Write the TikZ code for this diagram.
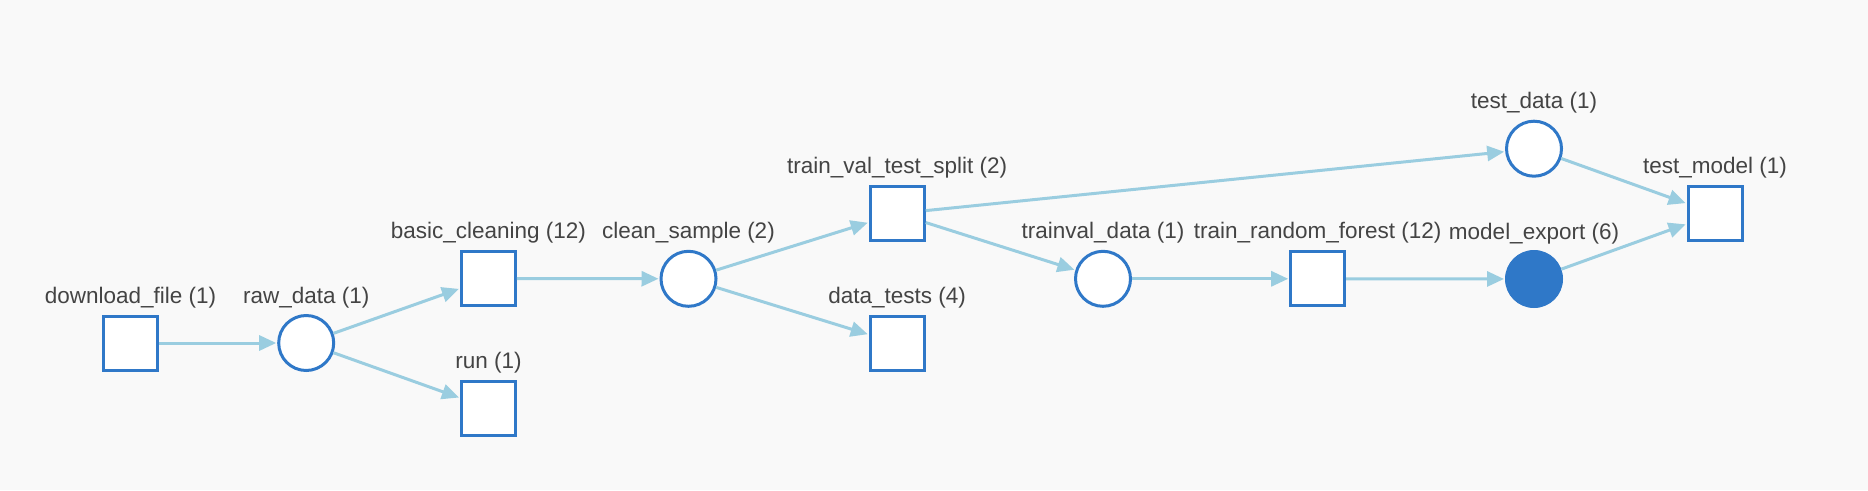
\documentclass[tikz,border=0pt]{standalone}
\usepackage{fontspec}
\setmainfont{Liberation Sans}
\usetikzlibrary{arrows.meta}
\definecolor{bg}{RGB}{249,249,249}
\definecolor{nodeblue}{RGB}{47,120,200}
\definecolor{edgeblue}{RGB}{154,205,224}
\definecolor{txt}{RGB}{68,68,68}
\tikzset{
  jobbox/.style={draw=nodeblue, line width=3pt, fill=white, rectangle, minimum size=54pt, inner sep=0pt},
  artifact/.style={draw=nodeblue, line width=3pt, fill=white, circle, minimum size=55pt, inner sep=0pt},
  artifactfull/.style={draw=nodeblue, line width=1pt, fill=nodeblue, circle, minimum size=57pt, inner sep=0pt},
  lbl/.style={anchor=base, text=txt, font=\fontsize{22.5pt}{26pt}\selectfont, inner sep=0pt},
  edge/.style={draw=edgeblue, line width=3pt, -{Triangle[length=17pt, width=15pt]}, shorten >=1pt}
}
\begin{document}
\begin{tikzpicture}[x=1pt, y=-1pt]
\fill[bg] (0,0) rectangle (1868,490);
\useasboundingbox (0,0) rectangle (1868,490);

% nodes
\node[jobbox] (dl) at (130.5,343) {};
\node[artifact] (raw) at (306.2,343) {};
\node[jobbox] (bc) at (488.4,278.5) {};
\node[jobbox] (run) at (488.4,408) {};
\node[artifact] (cs) at (688.5,278.8) {};
\node[jobbox] (tvts) at (897.2,213.5) {};
\node[jobbox] (dt) at (897.2,343.3) {};
\node[artifact] (tvd) at (1103,278.8) {};
\node[jobbox] (trf) at (1317.7,278.8) {};
\node[artifactfull] (me) at (1534,279) {};
\node[artifact] (td) at (1534,148.7) {};
\node[jobbox] (tm) at (1715,213.7) {};

% labels
\node[lbl] (dlL) at ([yshift=11.5pt]dl.north) {download\_file (1)};
\node[lbl] (rawL) at ([yshift=11pt]raw.north) {raw\_data (1)};
\node[lbl] (bcL) at ([yshift=11.5pt]bc.north) {basic\_cleaning (12)};
\node[lbl] (runL) at ([yshift=11.5pt]run.north) {run (1)};
\node[lbl] (csL) at ([yshift=11pt]cs.north) {clean\_sample (2)};
\node[lbl] (tvtsL) at ([yshift=11.5pt]tvts.north) {train\_val\_test\_split (2)};
\node[lbl] (dtL) at ([yshift=11.5pt]dt.north) {data\_tests (4)};
\node[lbl] (tvdL) at ([yshift=11pt]tvd.north) {trainval\_data (1)};
\node[lbl] (trfL) at ([yshift=11.5pt]trf.north) {train\_random\_forest (12)};
\node[lbl] (meL) at ([yshift=11pt]me.north) {model\_export (6)};
\node[lbl] (tdL) at ([yshift=11pt]td.north) {test\_data (1)};
\node[lbl] (tmL) at ([yshift=11.5pt]tm.north) {test\_model (1)};

% edges
\begin{scope}[on background layer/.style={}]
\draw[edge] (dl) -- (raw);
\draw[edge] (raw) -- (bc);
\draw[edge] (raw) -- (run);
\draw[edge] (bc) -- (cs);
\draw[edge] (cs) -- (tvts);
\draw[edge] (cs) -- (dt);
\draw[edge] (tvts) -- (td);
\draw[edge] (tvts) -- (tvd);
\draw[edge] (tvd) -- (trf);
\draw[edge] (trf) -- (me);
\draw[edge] (td) -- (tm);
\draw[edge] (me) -- (tm);
\end{scope}
\end{tikzpicture}
\end{document}
